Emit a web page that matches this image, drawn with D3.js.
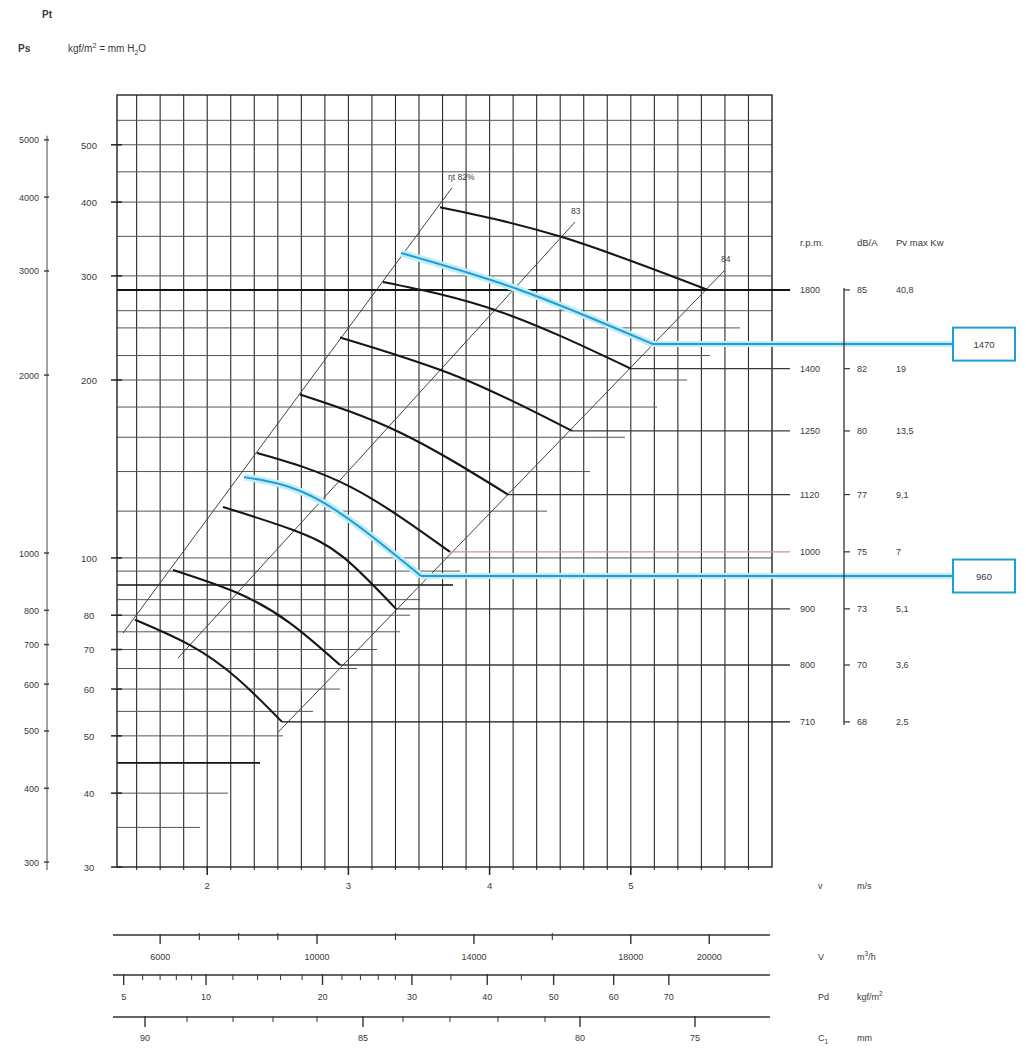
<!DOCTYPE html>
<html><head><meta charset="utf-8">
<script src="https://cdn.jsdelivr.net/npm/d3@7"></script>
<style>
body{margin:0;background:#fff}
text{font-family:"Liberation Sans",Arial,sans-serif;fill:#3a3a3a}
</style>
</head><body>
<svg id="c" width="1026" height="1052"></svg>
<script>
// ---------------- DATA ----------------
const flowDomain = [4900, 21600];          // m3/h
const psDomain = [30, 607];                // kgf/m2 = mm H2O
const gridFlows = d3.range(5400, 21001, 600);
// horizontal grid lines: [Ps, flow where the line ends, dark?]
const hGrid = [
  [550,21600],[500,21600],[450,21600],[400,21600],[350,21600],[300,21600],
  [262,21600],[245,20784],[220,20019],[200,19433],[180,18668],[160,17852],
  [140,16960],[120,15863],[100,21600],[95,13645],[90,13467,1],[85,12625],
  [80,12370],[75,12115],[70,11529],[65,11019],[60,10586],[55,9897],
  [50,9132],[45,8546,1],[40,7730],[35,7016]
];
const psTicks = [30,40,50,60,70,80,100,200,300,400,500];
const ptTicks = [300,400,500,600,700,800,1000,2000,3000,4000,5000]; // Pa
// fan curves [flow m3/h, Ps]
const curve1800 = [[13135,392],[16246,349],[19968,284]];
const curve1470 = [[12141,328],[15175,284],[18566,230]];
const curve1400 = [[11682,293],[14665,261],[18005,209]];
const curve1250 = [[10586,236],[13645,202],[16501,164]];
const curve1120 = [[9566,189],[12115,163],[14869,128]];
const curve1000 = [[8469,150.5],[10841,132],[13390,102.4]];
const curve960  = [[8138,137],[10076,125],[12651,93.2]];
const curve900  = [[7603,122],[9387,111.5],[10662,100.4],[12013,82]];
const curve800  = [[6328,95.4],[7960,87.3],[9311,77.6],[10586,65.9]];
const curve710  = [[5359,78.6],[6761,71.2],[7960,62.6],[9107,52.8]];
const blackCurves = [curve1800,curve1400,curve1250,curve1120,curve1000,curve900,curve800,curve710];
const blueCurves = [curve1470, curve960];
const blueLabels = ["1470","960"];
// efficiency lines
const effLeft  = [[5053,74.6],[13441,423]];
const effMid   = [[6455,67.7],[16577,370]];
const effRight = [[9005,50.7],[20402,307]];
const effLabels = ["\u03B7t 82%","83","84"];
// right table
const rpm   = ["1800","1400","1250","1120","1000","900","800","710"];
const dBA   = ["85","82","80","77","75","73","70","68"];
const pvKw  = ["40,8","19","13,5","9,1","7","5,1","3,6","2,5"];
const rpmCurves = [curve1800,curve1400,curve1250,curve1120,curve1000,curve900,curve800,curve710];
// bottom scales
const vMajor = [2,3,4,5];                 // m/s (outlet area 1 m2)
const flowMajor = [6000,10000,14000,18000,20000];
const flowMinor = [7000,8000,9000,12000,16000];
const pdMajor = [5,10,20,30,40,50,60,70];
const pdMinor = [6,7,8,9,12,14,16,18,22,24,26,28,35,45];
const csMajorFlow = [5614,11172,16705,19637];
const csMajorLabel = ["90","85","80","75"];
const csMinorFlow = [6685,7858,8877,9999,12192,13390,14614,15812];

// ---------------- CHART ----------------
const svg = d3.select("#c");
const x = d3.scaleLinear().domain(flowDomain).range([117, 772]);
const y = d3.scaleLog().domain(psDomain).range([867, 95]);
const X0 = x.range()[0], X1 = x.range()[1], Y0 = y.range()[0], Y1 = y.range()[1];
const line = d3.line().x(d=>x(d[0])).y(d=>y(d[1])).curve(d3.curveNatural);
const straight = d3.line().x(d=>x(d[0])).y(d=>y(d[1]));
const g = svg.append("g");

// vertical grid
g.selectAll(".vg").data(gridFlows).join("line")
  .attr("x1",d=>x(d)).attr("x2",d=>x(d)).attr("y1",Y1).attr("y2",Y0+3)
  .attr("stroke","#2b2b2b").attr("stroke-width",1.1);
// horizontal grid
g.selectAll(".hg").data(hGrid).join("line")
  .attr("x1",X0).attr("x2",d=>x(d[1])).attr("y1",d=>y(d[0])).attr("y2",d=>y(d[0]))
  .attr("stroke",d=>d[2]?"#111":"#555").attr("stroke-width",d=>d[2]?1.7:1);

// border
g.append("rect").attr("x",X0).attr("y",Y1).attr("width",X1-X0).attr("height",Y0-Y1)
  .attr("fill","none").attr("stroke","#222").attr("stroke-width",1.4);

// Ps ticks + labels
g.selectAll(".pst").data(psTicks).join("line")
  .attr("x1",X0-6).attr("x2",X0+5).attr("y1",d=>y(d)).attr("y2",d=>y(d))
  .attr("stroke","#222").attr("stroke-width",1.5);
g.selectAll(".psl").data(psTicks).join("text")
  .attr("x",X0-28).attr("y",d=>y(d)+4).attr("text-anchor","middle")
  .attr("font-size",9.5).text(d=>d);

// Pt axis
const ptX = 47;
g.append("line").attr("x1",ptX).attr("x2",ptX).attr("y1",y(5000/9.81)-4).attr("y2",Y0+3)
  .attr("stroke","#666").attr("stroke-width",1.2);
g.selectAll(".ptt").data(ptTicks).join("line")
  .attr("x1",ptX-3).attr("x2",ptX+2).attr("y1",d=>y(d/9.81)).attr("y2",d=>y(d/9.81))
  .attr("stroke","#444").attr("stroke-width",1.5);
g.selectAll(".ptl").data(ptTicks).join("text")
  .attr("x",ptX-8).attr("y",d=>y(d/9.81)+3.5).attr("text-anchor","end")
  .attr("font-size",9).text(d=>d);

svg.append("text").attr("x",42).attr("y",18).attr("font-size",10).attr("font-weight","bold").text("Pt");
svg.append("text").attr("x",18).attr("y",52).attr("font-size",10).attr("font-weight","bold").text("Ps");
const unit = svg.append("text").attr("x",68).attr("y",52).attr("font-size",10);
unit.append("tspan").text("kgf/m");
unit.append("tspan").attr("font-size",7).attr("dy",-4).text("2");
unit.append("tspan").attr("dy",4).text(" = mm H");
unit.append("tspan").attr("font-size",7).attr("dy",3).text("2");
unit.append("tspan").attr("dy",-3).text("O");

// efficiency lines
[effLeft,effMid,effRight].forEach((e,i)=>{
  g.append("path").attr("d",straight(e)).attr("fill","none")
    .attr("stroke","#444").attr("stroke-width",1);
  const top = e[1];
  g.append("text").attr("x",x(top[0])-4).attr("y",y(top[1])-8)
    .attr("font-size",8.5).text(effLabels[i]);
});

// rpm row lines (from curve end to the right table)
const rowEnd = X1 + 18;
rpmCurves.forEach((c,i)=>{
  const e = c[c.length-1];
  const start = i===0 ? X0 : x(e[0]);
  g.append("line").attr("x1",start).attr("x2",rowEnd).attr("y1",y(e[1])).attr("y2",y(e[1]))
    .attr("stroke", i===4 ? "#d98e9b" : (i===0||i===7 ? "#111" : "#3a3a3a"))
    .attr("stroke-width", i===0 ? 1.8 : 1.3);
});

// blue curves + callouts
const boxX = 953, boxW = 62, boxH = 33;
blueCurves.forEach((c,i)=>{
  g.append("path").attr("d",line(c)).attr("fill","none")
    .attr("stroke","#c4ecf8").attr("stroke-width",7);
  const e = c[c.length-1];
  g.append("line").attr("x1",x(e[0])).attr("x2",boxX).attr("y1",y(e[1])).attr("y2",y(e[1]))
    .attr("stroke","#c4ecf8").attr("stroke-width",6);
});
blueCurves.forEach((c,i)=>{
  g.append("path").attr("d",line(c)).attr("fill","none")
    .attr("stroke","#1c9fd2").attr("stroke-width",2);
  const e = c[c.length-1];
  const cy = y(e[1]);
  g.append("line").attr("x1",x(e[0])).attr("x2",boxX).attr("y1",cy).attr("y2",cy)
    .attr("stroke","#1c9fd2").attr("stroke-width",2);
  g.append("rect").attr("x",boxX).attr("y",cy-boxH/2).attr("width",boxW).attr("height",boxH)
    .attr("fill","#fff").attr("stroke","#1c9fd2").attr("stroke-width",2);
  g.append("text").attr("x",boxX+boxW/2).attr("y",cy+3.5).attr("text-anchor","middle")
    .attr("font-size",9.5).text(blueLabels[i]);
});

// black curves
g.selectAll(".crv").data(blackCurves).join("path")
  .attr("d",line).attr("fill","none").attr("stroke","#161616").attr("stroke-width",2.1);

// right table
const colRpm = 800, colDb = 857, colPv = 896, dbAxisX = 844;
svg.append("text").attr("x",colRpm).attr("y",246).attr("font-size",9.5).text("r.p.m.");
svg.append("text").attr("x",colDb).attr("y",246).attr("font-size",9.5).text("dB/A");
svg.append("text").attr("x",colPv).attr("y",246).attr("font-size",9.5).text("Pv max Kw");
const rowY = rpmCurves.map(c=>y(c[c.length-1][1]));
svg.append("line").attr("x1",dbAxisX).attr("x2",dbAxisX).attr("y1",rowY[0]-2).attr("y2",rowY[7]+3)
  .attr("stroke","#333").attr("stroke-width",1.3);
rowY.forEach((ry,i)=>{
  svg.append("line").attr("x1",dbAxisX).attr("x2",dbAxisX+6).attr("y1",ry).attr("y2",ry)
    .attr("stroke","#333").attr("stroke-width",1.2);
  svg.append("text").attr("x",colRpm).attr("y",ry+3.5).attr("font-size",9).text(rpm[i]);
  svg.append("text").attr("x",colDb).attr("y",ry+3.5).attr("font-size",9).text(dBA[i]);
  svg.append("text").attr("x",colPv).attr("y",ry+3.5).attr("font-size",9).text(pvKw[i]);
});

// ---- bottom scales ----
const lab = (yy, a, b, sup, rest)=>{
  svg.append("text").attr("x",818).attr("y",yy).attr("font-size",9).text(a);
  const t = svg.append("text").attr("x",857).attr("y",yy).attr("font-size",9);
  t.append("tspan").text(b);
  if(sup){ t.append("tspan").attr("font-size",6.5).attr("dy",-4).text(sup); }
  if(rest){ t.append("tspan").attr("dy",4).text(rest); }
};
// v (m/s) along plot bottom
g.selectAll(".vt").data(vMajor).join("line")
  .attr("x1",d=>x(d*3600)).attr("x2",d=>x(d*3600)).attr("y1",Y0).attr("y2",Y0+8)
  .attr("stroke","#222").attr("stroke-width",1.5);
g.selectAll(".vl").data(vMajor).join("text")
  .attr("x",d=>x(d*3600)).attr("y",Y0+22).attr("text-anchor","middle").attr("font-size",9.5).text(d=>d);
lab(Y0+22,"v","m/s");

// V m3/h
const yV = 935;
g.append("line").attr("x1",X0-4).attr("x2",X1-2).attr("y1",yV).attr("y2",yV).attr("stroke","#333").attr("stroke-width",1.3);
g.selectAll(".fM").data(flowMajor).join("line").attr("x1",d=>x(d)).attr("x2",d=>x(d)).attr("y1",yV-1).attr("y2",yV+9).attr("stroke","#333").attr("stroke-width",1.4);
g.selectAll(".fm").data(flowMinor).join("line").attr("x1",d=>x(d)).attr("x2",d=>x(d)).attr("y1",yV-2).attr("y2",yV+5).attr("stroke","#444").attr("stroke-width",1.2);
g.selectAll(".fl").data(flowMajor).join("text").attr("x",d=>x(d)).attr("y",yV+25).attr("text-anchor","middle").attr("font-size",9).text(d=>d);
lab(yV+25,"V","m","3","/h");

// Pd
const yPd = 975;
const pdFlow = p => 7170*Math.sqrt(p/10);
g.append("line").attr("x1",X0-4).attr("x2",X1-2).attr("y1",yPd).attr("y2",yPd).attr("stroke","#333").attr("stroke-width",1.3);
g.selectAll(".pM").data(pdMajor).join("line").attr("x1",d=>x(pdFlow(d))).attr("x2",d=>x(pdFlow(d))).attr("y1",yPd-1).attr("y2",yPd+10).attr("stroke","#333").attr("stroke-width",1.4);
g.selectAll(".pm").data(pdMinor).join("line").attr("x1",d=>x(pdFlow(d))).attr("x2",d=>x(pdFlow(d))).attr("y1",yPd-1).attr("y2",yPd+5).attr("stroke","#444").attr("stroke-width",1.1);
g.selectAll(".pl").data(pdMajor).join("text").attr("x",d=>x(pdFlow(d))).attr("y",yPd+25).attr("text-anchor","middle").attr("font-size",9).text(d=>d);
lab(yPd+25,"Pd","kgf/m","2");

// Cs
const yCs = 1017;
g.append("line").attr("x1",X0-4).attr("x2",X1-2).attr("y1",yCs).attr("y2",yCs).attr("stroke","#333").attr("stroke-width",1.3);
g.selectAll(".cM").data(csMajorFlow).join("line").attr("x1",d=>x(d)).attr("x2",d=>x(d)).attr("y1",yCs-1).attr("y2",yCs+10).attr("stroke","#333").attr("stroke-width",1.4);
g.selectAll(".cm").data(csMinorFlow).join("line").attr("x1",d=>x(d)).attr("x2",d=>x(d)).attr("y1",yCs-1).attr("y2",yCs+5).attr("stroke","#444").attr("stroke-width",1.1);
g.selectAll(".cl").data(csMajorFlow).join("text").attr("x",d=>x(d)).attr("y",yCs+24).attr("text-anchor","middle").attr("font-size",9).text((d,i)=>csMajorLabel[i]);
const cl = svg.append("text").attr("x",818).attr("y",yCs+24).attr("font-size",9);
cl.append("tspan").text("C");
cl.append("tspan").attr("font-size",6.5).attr("dy",3).text("1");
svg.append("text").attr("x",857).attr("y",yCs+24).attr("font-size",9).text("mm");
</script>
</body></html>
